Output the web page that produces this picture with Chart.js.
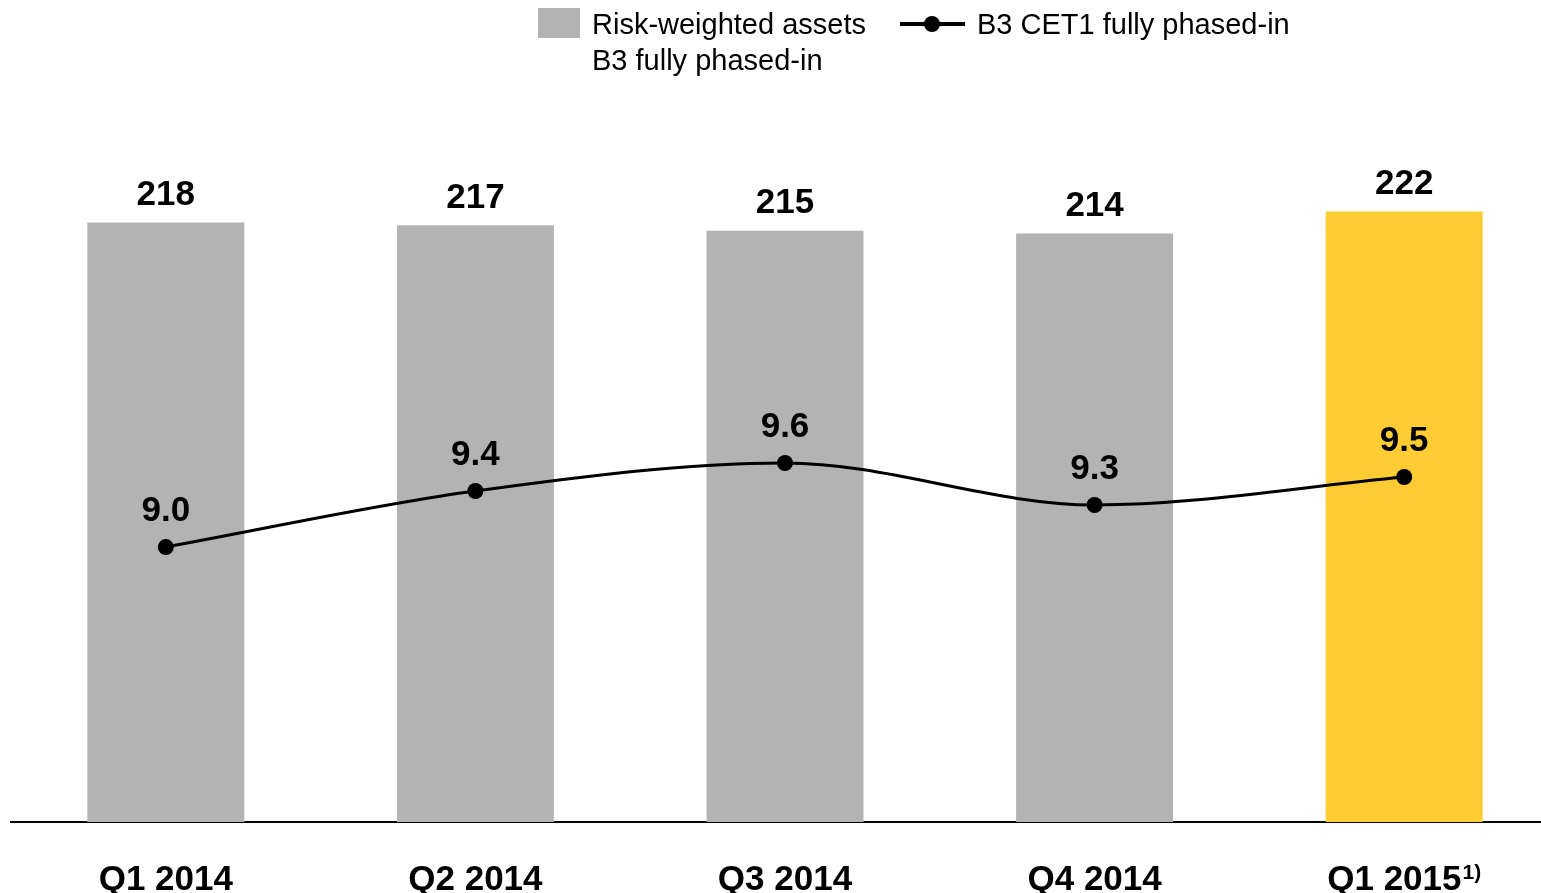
<!DOCTYPE html>
<html>
<head>
<meta charset="utf-8">
<script src="https://cdn.jsdelivr.net/npm/chart.js@4.4.1/dist/chart.umd.min.js"></script>
<style>
  html, body { margin: 0; padding: 0; background: #fff; overflow: hidden; }
  #wrap { position: relative; width: 1560px; height: 893px; }
  #chartRwa { display: block; }
  #legend { position: absolute; left: 0; top: 0; font-family: 'Liberation Sans', Arial, sans-serif; font-size: 29px; color: #000; }
  .lg-box { position: absolute; left: 538px; top: 8px; width: 42px; height: 30px; background: #b3b3b3; }
  .lg-t1 { position: absolute; left: 592px; top: 6px; line-height: 36px; white-space: nowrap; }
  .lg-line { position: absolute; left: 900px; top: 22px; width: 65px; height: 4px; background: #000; }
  .lg-dot { position: absolute; left: 924px; top: 16px; width: 16px; height: 16px; border-radius: 50%; background: #000; }
  .lg-t2 { position: absolute; left: 977px; top: 6px; line-height: 36px; white-space: nowrap; }
</style>
</head>
<body>
<div id="wrap">
  <canvas id="chartRwa" width="1560" height="893"></canvas>
  <div id="legend">
    <div class="lg-box"></div>
    <div class="lg-t1">Risk-weighted assets<br>B3 fully phased-in</div>
    <div class="lg-line"></div>
    <div class="lg-dot"></div>
    <div class="lg-t2">B3 CET1 fully phased-in</div>
  </div>
</div>
<script>
'use strict';

// ─── DATA ────────────────────────────────────────────────────
const quarters  = ['Q1 2014', 'Q2 2014', 'Q3 2014', 'Q4 2014', 'Q1 2015'];
const footnotes = ['', '', '', '', '1)'];
const rwa       = [218, 217, 215, 214, 222];      // EUR bn
const cet1      = [9.0, 9.4, 9.6, 9.3, 9.5];      // %

const GREY   = '#b3b3b3';
const YELLOW = '#ffcc33';
const FONT   = "'Liberation Sans', Arial, sans-serif";

const barColors = rwa.map((_, i) => i === rwa.length - 1 ? YELLOW : GREY);

// ─── LABEL PLUGIN ────────────────────────────────────────────
const labelPlugin = {
  id: 'valueLabels',
  afterDatasetsDraw(chart) {
    const ctx = chart.ctx;
    ctx.save();
    ctx.fillStyle = '#000';
    ctx.textAlign = 'center';
    ctx.textBaseline = 'middle';
    ctx.font = `bold 35px ${FONT}`;

    chart.getDatasetMeta(1).data.forEach((el, i) => {
      ctx.fillText(String(rwa[i]), el.x, el.y - 27);
    });
    chart.getDatasetMeta(0).data.forEach((el, i) => {
      ctx.fillText(cet1[i].toFixed(1), el.x, el.y - 36);
    });

    // category labels with footnote superscripts
    const xs = chart.scales.x;
    const base = 890;
    quarters.forEach((q, i) => {
      const cx = xs.getPixelForValue(i);
      ctx.textAlign = 'left';
      ctx.textBaseline = 'alphabetic';
      ctx.font = `bold 35px ${FONT}`;
      const w1 = ctx.measureText(q).width;
      let w2 = 0;
      if (footnotes[i]) {
        ctx.font = `bold 21px ${FONT}`;
        w2 = ctx.measureText(footnotes[i]).width + 1;
      }
      const x0 = cx - (w1 + w2) / 2;
      ctx.font = `bold 35px ${FONT}`;
      ctx.fillText(q, x0, base);
      if (footnotes[i]) {
        ctx.font = `bold 21px ${FONT}`;
        ctx.fillText(footnotes[i], x0 + w1 + 1, base - 11);
      }
    });
    ctx.restore();
  }
};

// ─── CHART ───────────────────────────────────────────────────
new Chart(document.getElementById('chartRwa'), {
  type: 'bar',
  data: {
    labels: quarters,
    datasets: [
      {
        type: 'line',
        label: 'B3 CET1 fully phased-in',
        data: cet1,
        yAxisID: 'y1',
        order: 0,
        borderColor: '#000',
        borderWidth: 3,
        pointBackgroundColor: '#000',
        pointBorderColor: '#000',
        pointRadius: 8,
        pointBorderWidth: 0,
        cubicInterpolationMode: 'monotone',
        fill: false
      },
      {
        type: 'bar',
        label: 'Risk-weighted assets B3 fully phased-in',
        data: rwa,
        yAxisID: 'y',
        order: 1,
        backgroundColor: barColors,
        borderWidth: 0,
        categoryPercentage: 1.0,
        barPercentage: 0.507
      }
    ]
  },
  options: {
    responsive: false,
    maintainAspectRatio: false,
    devicePixelRatio: 1,
    animation: false,
    layout: { autoPadding: false, padding: { left: 11, right: 1, top: 100, bottom: 0 } },
    plugins: {
      legend: { display: false },
      tooltip: { enabled: false }
    },
    scales: {
      x: {
        grid: { display: false },
        border: { display: true, color: '#000', width: 2 },
        ticks: { display: false },
        afterFit: s => { s.height = 71; }
      },
      y: {
        display: false,
        min: 0,
        max: 262.5
      },
      y1: {
        display: false,
        position: 'right',
        min: 7.036,
        max: 12.193
      }
    }
  },
  plugins: [labelPlugin]
});
</script>
</body>
</html>
